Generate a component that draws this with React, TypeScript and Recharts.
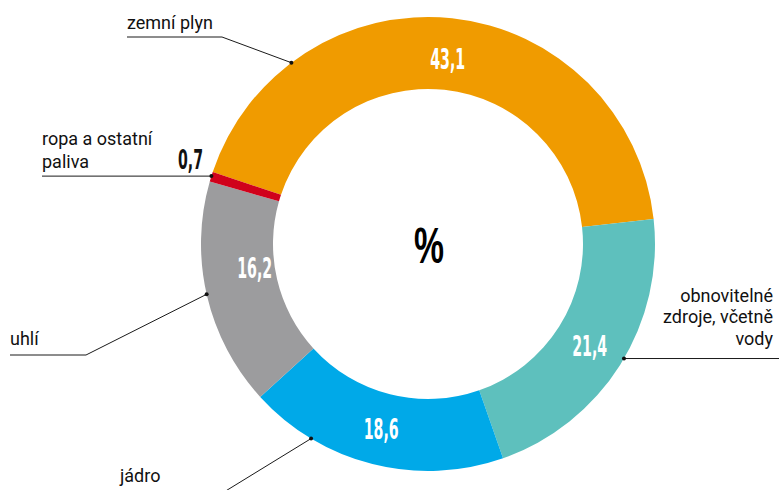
import React from "react";
import { PieChart, Pie, Cell } from "recharts";

const names = ["zemní plyn", "obnovitelné zdroje, včetně vody", "jádro", "uhlí", "ropa a ostatní paliva"];
const values = [43.1, 21.4, 18.6, 16.2, 0.7];
const valueLabels = ["43,1", "21,4", "18,6", "16,2", "0,7"];
const colors = ["#f09b00", "#5ec0bd", "#00a9e8", "#9c9c9e", "#d0011b"];

const data = names.map((n, i) => ({ name: n, value: values[i] }));

const RAD = Math.PI / 180;
const numFont = "'Liberation Sans Narrow', 'DejaVu Sans Condensed', 'Liberation Sans', sans-serif";
const txtFont = "Roboto, 'Liberation Sans', sans-serif";

// annotation layout (per slice index)
const inside: Record<number, { angle?: number; r?: number }> = {
  0: { r: 186 },
  1: {},
  2: {},
  3: { angle: 188, r: 175 },
};

function Dot({ x, y }: { x: number; y: number }) {
  return <circle cx={x} cy={y} r={2} fill="#111" />;
}

const renderLabel = (props: any) => {
  const { cx, cy, midAngle, innerRadius, outerRadius, index } = props;
  const items: React.ReactNode[] = [];
  const conf = inside[index];
  if (conf) {
    const a = conf.angle ?? midAngle;
    const r = conf.r ?? (innerRadius + outerRadius) / 2;
    const x = cx + r * Math.cos(-a * RAD);
    const y = cy + r * Math.sin(-a * RAD);
    items.push(
      <text
        key="v"
        x={x}
        y={y + 10}
        textAnchor="middle"
        fill="#fff"
        fontFamily={numFont}
        fontWeight="bold"
        fontSize={29}
        textLength={35}
        lengthAdjust="spacingAndGlyphs"
      >
        {valueLabels[index]}
      </text>
    );
  }
  const pt = (ang: number) => ({
    x: cx + outerRadius * Math.cos(-ang * RAD),
    y: cy + outerRadius * Math.sin(-ang * RAD),
  });
  const ls = { stroke: "#1a1a1a", strokeWidth: 1, fill: "none" };
  const ts = { fontFamily: txtFont, fontSize: 18, fill: "#111" } as any;
  if (index === 0) {
    const d = pt(127);
    items.push(
      <g key="o">
        <text x={127} y={29} {...ts}>zemní plyn</text>
        <polyline points={`127,37 222,37 ${d.x},${d.y}`} {...ls} />
        <Dot x={d.x} y={d.y} />
      </g>
    );
  } else if (index === 1) {
    const d = pt(-30.3);
    items.push(
      <g key="o">
        <text x={773} y={302} textAnchor="end" {...ts}>obnovitelné</text>
        <text x={773} y={323} textAnchor="end" {...ts}>zdroje, včetně</text>
        <text x={773} y={345} textAnchor="end" {...ts}>vody</text>
        <polyline points={`${d.x},${d.y} 779,${d.y}`} {...ls} />
        <Dot x={d.x} y={d.y} />
      </g>
    );
  } else if (index === 2) {
    const d = pt(239);
    items.push(
      <g key="o">
        <text x={120} y={482} {...ts}>jádro</text>
        <polyline points={`120,492 224,492 ${d.x},${d.y}`} {...ls} />
        <Dot x={d.x} y={d.y} />
      </g>
    );
  } else if (index === 3) {
    const d = pt(192.8);
    items.push(
      <g key="o">
        <text x={10} y={345} {...ts}>uhlí</text>
        <polyline points={`10,355 86,355 ${d.x},${d.y}`} {...ls} />
        <Dot x={d.x} y={d.y} />
      </g>
    );
  } else if (index === 4) {
    const d = pt(162.6);
    items.push(
      <g key="o">
        <text x={42} y={145} {...ts}>ropa a ostatní</text>
        <text x={42} y={168} {...ts}>paliva</text>
        <text
          x={178}
          y={169}
          fill="#111"
          fontFamily={numFont}
          fontWeight="bold"
          fontSize={27}
          textLength={25}
          lengthAdjust="spacingAndGlyphs"
        >
          {valueLabels[index]}
        </text>
        <polyline points={`42,${d.y} ${d.x},${d.y}`} {...ls} />
        <Dot x={d.x} y={d.y} />
      </g>
    );
  }
  return <g>{items}</g>;
};

export default function App() {
  return (
    <div style={{ position: "absolute", left: 0, top: 0, width: 779, height: 490, background: "#fff" }}>
      <PieChart width={779} height={490} margin={{ top: 0, right: 0, bottom: 0, left: 0 }}>
        <Pie
          data={data}
          dataKey="value"
          nameKey="name"
          cx={428}
          cy={244}
          innerRadius={155}
          outerRadius={227}
          startAngle={161.5}
          endAngle={-198.5}
          stroke="none"
          isAnimationActive={false}
          label={renderLabel}
          labelLine={false}
        >
          {data.map((d, i) => (
            <Cell key={d.name} fill={colors[i]} />
          ))}
        </Pie>
        <text
          x={429}
          y={263}
          textAnchor="middle"
          fill="#000"
          fontFamily="'Liberation Sans', sans-serif"
          fontWeight="bold"
          fontSize={50}
          textLength={30}
          lengthAdjust="spacingAndGlyphs"
        >
          %
        </text>
      </PieChart>
    </div>
  );
}
